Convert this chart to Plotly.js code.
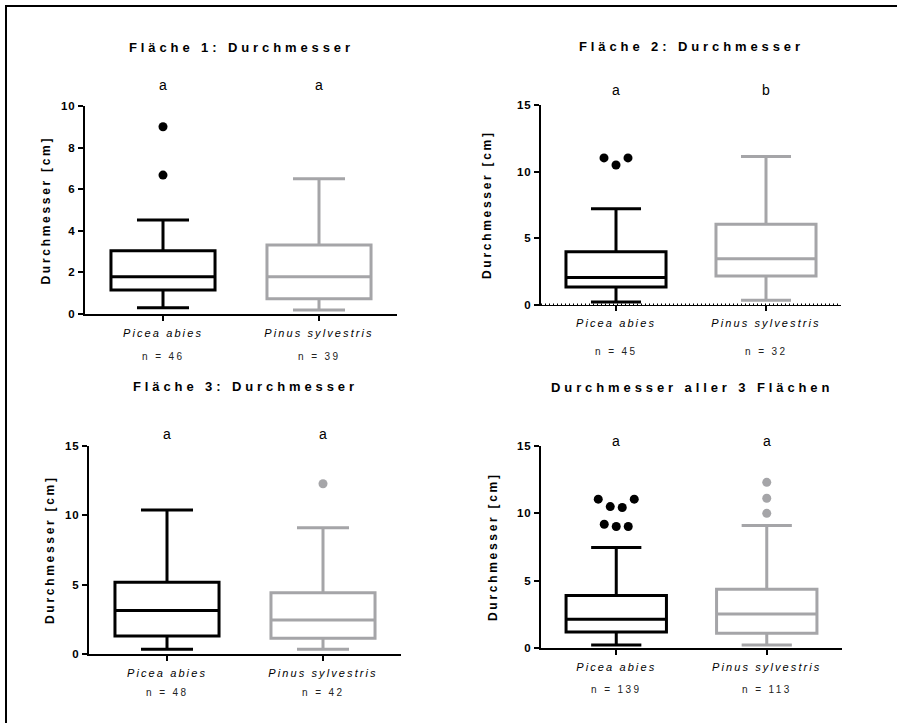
<!DOCTYPE html>
<html><head><meta charset="utf-8">
<script src="https://cdn.plot.ly/plotly-3.0.1.min.js"></script>
<style>html,body{margin:0;padding:0;background:#fff;overflow:hidden}#chart{width:897px;height:723px}</style>
</head><body><div id="chart"></div>
<script>
// ---------- data ----------
const categories = ['Picea abies', 'Pinus sylvestris'];
const panelTitles = ['Fläche 1: Durchmesser', 'Fläche 2: Durchmesser', 'Fläche 3: Durchmesser', 'Durchmesser aller 3 Flächen'];
const yAxisTitle = 'Durchmesser [cm]';
const sigLetters = [['a', 'a'], ['a', 'b'], ['a', 'a'], ['a', 'a']];
const sampleSizes = [[46, 39], [45, 32], [48, 42], [139, 113]];
const yTicksPanel1 = [0, 2, 4, 6, 8, 10];
const yTicksOther = [0, 5, 10, 15];
// per panel: [Picea abies, Pinus sylvestris]
const lowerWhisker = [[0.30, 0.19], [0.22, 0.35], [0.34, 0.34], [0.22, 0.22]];
const q1 = [[1.15, 0.73], [1.35, 2.17], [1.30, 1.13], [1.19, 1.09]];
const median = [[1.79, 1.79], [2.07, 3.47], [3.13, 2.45], [2.13, 2.52]];
const q3 = [[3.04, 3.32], [3.99, 6.06], [5.17, 4.42], [3.90, 4.37]];
const upperWhisker = [[4.52, 6.50], [7.21, 11.13], [10.38, 9.11], [7.46, 9.09]];
const outliersPicea = [[9.0, 6.68], [11.03, 10.5, 11.03], [], [11.05, 10.5, 10.43, 11.05, 9.19, 9.02, 9.02]];
const outliersPinus = [[], [], [12.28], [12.3, 11.12, 10.0]];

// ---------- layout / style ----------
const W = 897, H = 723;
const FONT = 'Liberation Sans, Arial, Helvetica, sans-serif';
const colors = ['#000000', '#a5a5a8'];
const panels = [
  { px: [85, 397], py: [106, 314], ymax: 10, ticks: yTicksPanel1, titleY: 48, letterY: 85, nY: 356, axTitleX: 45.5 },
  { px: [541, 841], py: [105, 305], ymax: 15, ticks: yTicksOther, titleY: 47, letterY: 90, nY: 351, axTitleX: 487 },
  { px: [89, 401], py: [446, 654], ymax: 15, ticks: yTicksOther, titleY: 386, letterY: 434, nY: 692, axTitleX: 50 },
  { px: [541, 842], py: [446, 648], ymax: 15, ticks: yTicksOther, titleY: 387, letterY: 441, nY: 689, axTitleX: 493 }
];
const fx = p => p / W;
const fy = p => 1 - p / H;
const sp = (t, s) => '<span style="letter-spacing:' + s + 'px">' + t + '</span>';

function swarmOffsets(vals, spacing, thr) {
  const off = vals.map(() => 0);
  const idx = vals.map((v, i) => i).sort((a, b) => vals[a] - vals[b]);
  const groups = []; let cur = [];
  idx.forEach(i => {
    if (cur.length && vals[i] - vals[cur[cur.length - 1]] > thr) { groups.push(cur); cur = []; }
    cur.push(i);
  });
  if (cur.length) groups.push(cur);
  groups.forEach(g => {
    g.sort((a, b) => a - b);
    g.forEach((i, k) => { off[i] = (k - (g.length - 1) / 2) * spacing; });
  });
  return off;
}

const data = [];
const layout = {
  width: W, height: H,
  margin: { l: 0, r: 0, t: 0, b: 0 },
  paper_bgcolor: '#fff', plot_bgcolor: 'rgba(0,0,0,0)',
  showlegend: false,
  boxmode: 'overlay',
  font: { family: FONT, color: '#000' },
  annotations: [],
  shapes: [
    { type: 'rect', xref: 'paper', yref: 'paper', x0: fx(880), x1: 1, y0: 0, y1: fy(8),
      line: { width: 0 }, fillcolor: '#fff', layer: 'above' },
    { type: 'line', xref: 'paper', yref: 'paper', x0: fx(5), x1: 1, y0: fy(6), y1: fy(6),
      line: { color: '#000', width: 2 }, layer: 'above' },
    { type: 'line', xref: 'paper', yref: 'paper', x0: fx(6), x1: fx(6), y0: 0, y1: fy(5),
      line: { color: '#000', width: 2 }, layer: 'above' }
  ]
};

panels.forEach((P, k) => {
  const n = k + 1;
  const xa = n === 1 ? 'x' : 'x' + n;
  const ya = n === 1 ? 'y' : 'y' + n;
  const xKey = n === 1 ? 'xaxis' : 'xaxis' + n;
  const yKey = n === 1 ? 'yaxis' : 'yaxis' + n;
  const pxPerUnit = (P.px[1] - P.px[0]) / 2;

  layout[xKey] = {
    domain: [fx(P.px[0]), fx(P.px[1])], anchor: ya,
    range: [-0.5, 1.5], fixedrange: true,
    tickvals: categories.map((c, i) => i),
    ticktext: categories.map(c => sp(c, 2.1)),
    tickfont: { family: FONT, size: 11, style: 'italic', color: '#000' },
    ticks: 'outside', ticklen: 5, tickwidth: 2, tickcolor: '#000', ticklabelstandoff: 3,
    showline: true, linecolor: '#000', linewidth: n === 2 ? 1 : 2,
    showgrid: false, zeroline: false
  };
  layout[yKey] = {
    domain: [fy(P.py[1]), fy(P.py[0])], anchor: xa,
    range: [0, P.ymax], fixedrange: true,
    tickvals: P.ticks, ticktext: P.ticks.map(v => sp(String(v), 1)),
    tickfont: { family: FONT, size: 11.5, weight: 'bold', color: '#000' },
    ticks: 'outside', ticklen: 5, tickwidth: 2, tickcolor: '#000',
    showline: true, linecolor: '#000', linewidth: 2,
    showgrid: false, zeroline: false
  };

  categories.forEach((c, i) => {
    data.push({
      type: 'box', orientation: 'v', xaxis: xa, yaxis: ya,
      x: [i], q1: [q1[k][i]], median: [median[k][i]], q3: [q3[k][i]],
      lowerfence: [lowerWhisker[k][i]], upperfence: [upperWhisker[k][i]],
      width: 0.667, whiskerwidth: 0.5, boxpoints: false,
      line: { color: colors[i], width: 3 }, fillcolor: '#fff',
      hoverinfo: 'skip', name: c
    });
    const outs = i === 0 ? outliersPicea[k] : outliersPinus[k];
    if (outs.length) {
      const off = swarmOffsets(outs, 12 / pxPerUnit, 0.8);
      data.push({
        type: 'scatter', mode: 'markers', xaxis: xa, yaxis: ya,
        x: outs.map((v, j) => i + off[j]), y: outs,
        marker: { color: colors[i], size: 9 }, hoverinfo: 'skip', cliponaxis: false
      });
    }
    // significance letters
    layout.annotations.push({
      xref: xa, yref: 'paper', x: i, y: fy(P.letterY), text: sigLetters[k][i],
      showarrow: false, xanchor: 'center', yanchor: 'middle',
      font: { family: FONT, size: 14, color: '#000' }
    });
    // n labels
    layout.annotations.push({
      xref: xa, yref: 'paper', x: i, y: fy(P.nY), text: sp('n = ' + sampleSizes[k][i], 2.4),
      showarrow: false, xanchor: 'center', yanchor: 'middle',
      font: { family: FONT, size: 10, color: '#222' }
    });
  });

  // panel title
  layout.annotations.push({
    xref: 'paper', yref: 'paper', x: fx((P.px[0] + P.px[1]) / 2), y: fy(P.titleY),
    text: sp(panelTitles[k], 3.9), showarrow: false, xanchor: 'center', yanchor: 'middle',
    font: { family: FONT, size: 13, weight: 'bold', color: '#000' }
  });
  // y axis title
  layout.annotations.push({
    xref: 'paper', yref: 'paper', x: fx(P.axTitleX), y: fy((P.py[0] + P.py[1]) / 2),
    text: sp(yAxisTitle, 2.7), textangle: -90, showarrow: false, xanchor: 'center', yanchor: 'middle',
    font: { family: FONT, size: 12, weight: 'bold', color: '#000' }
  });
  // dotted baseline in panel 2
  if (n === 2) {
    layout.shapes.push({
      type: 'line', xref: xa + ' domain', yref: ya, x0: 0, x1: 1, y0: 0, y1: 0,
      line: { color: '#000', width: 3, dash: '1px,3px' }, layer: 'above'
    });
  }
});

Plotly.newPlot('chart', data, layout, { staticPlot: true, displayModeBar: false });
</script>
</body></html>
